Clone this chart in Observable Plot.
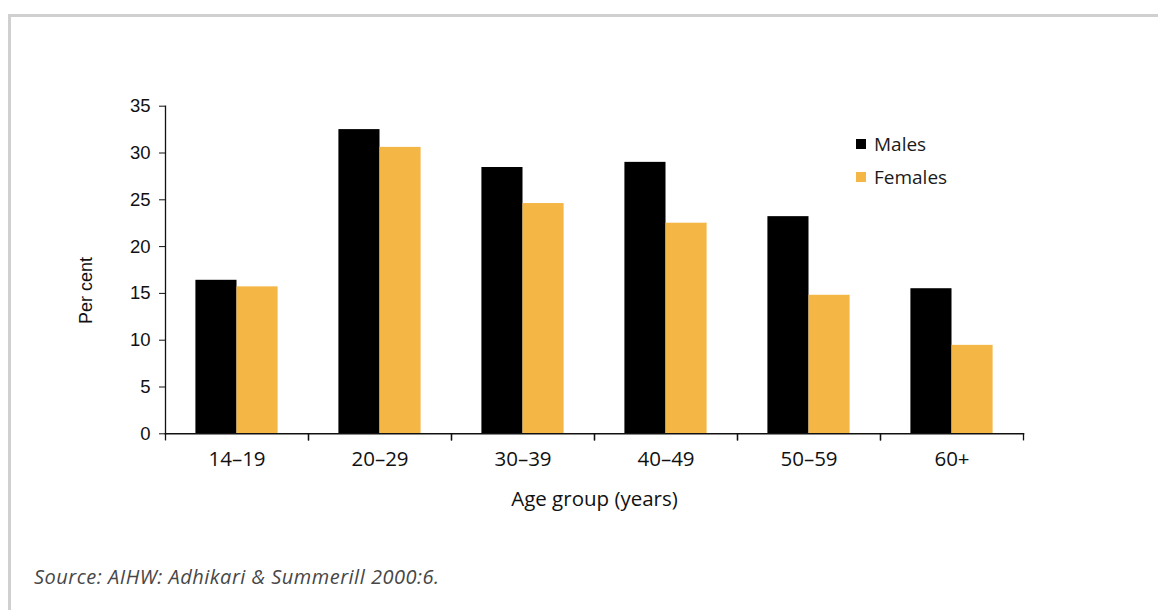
<!DOCTYPE html>
<html><head><meta charset="utf-8">
<script src="https://cdn.jsdelivr.net/npm/d3@7"></script>
<script src="https://cdn.jsdelivr.net/npm/@observablehq/plot@0.6"></script>
<style>
body{margin:0;background:#fff;width:1158px;height:610px;overflow:hidden;position:relative;font-family:"Open Sans", sans-serif}
#border{position:absolute;left:8px;top:14px;width:1200px;height:700px;border-top:3px solid #d0d0d0;border-left:3px solid #d0d0d0;box-sizing:border-box}
#chart{position:absolute;left:0;top:0}
#legend{position:absolute;left:856px;top:127px}
#caption{position:absolute;left:34px;top:563px;font-style:italic;font-size:20px;letter-spacing:0.5px;color:#474747;font-family:"Open Sans", sans-serif;white-space:nowrap}
.lg-swatch{display:flex !important;align-items:center;height:33.5px;margin:0 !important;padding:0 !important;color:#1a1a1a}
.lg-swatch svg{margin-right:8px !important}
</style></head><body>
<div id="border"></div>
<div id="chart"></div>
<div id="legend"></div>
<div id="caption">Source: AIHW: Adhikari &amp; Summerill 2000:6.</div>
<script>
const groups = ["14–19", "20–29", "30–39", "40–49", "50–59", "60+"];
const sexes = ["Males", "Females"];
const males = [16.4, 32.5, 28.45, 29.0, 23.2, 15.5];
const females = [15.7, 30.6, 24.6, 22.5, 14.8, 9.45];
const yTicks = [0, 5, 10, 15, 20, 25, 30, 35];
const colors = ["#000000", "#f4b645"];
const xTitle = "Age group (years)";
const yTitle = "Per cent";

const data = groups.flatMap((g, i) => [
  {group: g, sex: "Males", value: males[i]},
  {group: g, sex: "Females", value: females[i]}
]);

const H = 520, mT = 105.7, mB = 86.7;
const innerH = H - mT - mB;

const chart = Plot.plot({
  width: 1158, height: H,
  marginLeft: 162.3, marginRight: 133.3, marginTop: mT, marginBottom: mB,
  style: {background: "transparent", fontFamily: "Open Sans", fontSize: "19px", color: "#111"},
  fx: {domain: groups, padding: 0, label: null},
  x: {domain: sexes, paddingInner: 0, paddingOuter: 0.74, round: false, axis: null},
  y: {domain: [0, 35], axis: null},
  color: {domain: sexes, range: colors},
  marks: [
    Plot.barY(data, {fx: "group", x: "sex", y: "value", fill: "sex"}),
    Plot.frame({anchor: "left", facet: "super", stroke: "#111", strokeWidth: 1.3}),
    Plot.frame({anchor: "bottom", facet: "super", stroke: "#111", strokeWidth: 1.5}),
    Plot.frame({anchor: "left", insetTop: innerH, insetBottom: -6, stroke: "#111", strokeWidth: 1.3}),
    Plot.frame({anchor: "right", insetTop: innerH, insetBottom: -6, stroke: "#111", strokeWidth: 1.3}),
    Plot.axisY({ticks: yTicks, tickSize: 6, tickPadding: 9, label: null, fontFamily: "Liberation Sans", fontSize: 18.5, stroke: "#111"}),
    Plot.axisFx({anchor: "bottom", tickSize: 0, tickPadding: 18, label: xTitle, labelAnchor: "center", labelOffset: 72, fontSize: 20.5, labelArrow: "none"}),
    Plot.text([yTitle], {facet: "super", frameAnchor: "left", rotate: -90, dx: -79, dy: 54, fontFamily: "Liberation Sans", fontSize: 18, fill: "#111"})
  ]
});
document.getElementById("chart").append(chart);

const legend = Plot.legend({
  color: {domain: sexes, range: colors},
  legend: "swatches", columns: 1, swatchSize: 10, className: "lg",
  style: {fontFamily: "Open Sans", fontSize: "19px"}
});
document.getElementById("legend").append(legend);
</script>
</body></html>
